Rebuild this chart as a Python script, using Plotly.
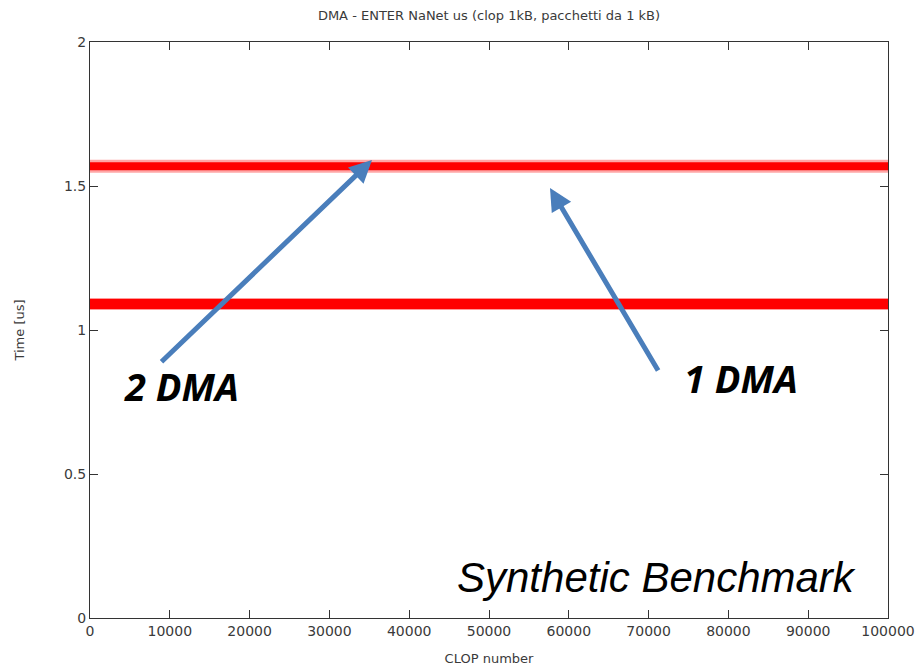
import plotly.graph_objects as go

# Data (two bands of CLOP timings)
clop_x = [0, 10000, 20000, 30000, 40000, 50000, 60000, 70000, 80000, 90000, 100000]
time_2dma = [1.569, 1.569, 1.569, 1.569, 1.569, 1.569, 1.569, 1.569, 1.569, 1.569, 1.569]
time_1dma = [1.090, 1.090, 1.090, 1.090, 1.090, 1.090, 1.090, 1.090, 1.090, 1.090, 1.090]

x_ticks = [0, 10000, 20000, 30000, 40000, 50000, 60000, 70000, 80000, 90000, 100000]
x_tick_text = ["0", "10000", "20000", "30000", "40000", "50000", "60000", "70000", "80000", "90000", "100000"]
y_ticks = [0, 0.5, 1, 1.5, 2]
y_tick_text = ["0", "0.5", "1", "1.5", "2"]

RED = "#ff0000"
BLUE = "#4a7ebb"
FONT = "DejaVu Sans"
TXT = "#3a3a3a"

fig = go.Figure()
# upper band (fuzzy edge)
fig.add_trace(go.Scatter(x=clop_x, y=time_2dma, mode="lines",
                         line=dict(color="rgba(255,0,0,0.35)", width=13),
                         hoverinfo="skip", showlegend=False))
fig.add_trace(go.Scatter(x=clop_x, y=time_2dma, mode="lines",
                         line=dict(color=RED, width=8), showlegend=False))
# lower band
fig.add_trace(go.Scatter(x=clop_x, y=time_1dma, mode="lines",
                         line=dict(color="rgba(255,0,0,0.4)", width=12),
                         hoverinfo="skip", showlegend=False))
fig.add_trace(go.Scatter(x=clop_x, y=time_1dma, mode="lines",
                         line=dict(color=RED, width=10), showlegend=False))

annotations = [
    dict(x=35338, y=1.590, ax=8772, ay=0.885, xref="x", yref="y", axref="x", ayref="y",
         showarrow=True, arrowhead=2, arrowsize=0.9, arrowwidth=5, arrowcolor=BLUE, text=""),
    dict(x=57644, y=1.493, ax=71303, ay=0.854, xref="x", yref="y", axref="x", ayref="y",
         showarrow=True, arrowhead=2, arrowsize=0.9, arrowwidth=5, arrowcolor=BLUE, text=""),
    dict(x=11404, y=0.806, xref="x", yref="y", showarrow=False,
         text="<b><i>2 DMA</i></b>", font=dict(family="Open Sans", size=38, color="black")),
    dict(x=81579, y=0.833, xref="x", yref="y", showarrow=False,
         text="<b><i>1 DMA</i></b>", font=dict(family="Open Sans", size=38, color="black")),
    dict(x=70927, y=0.142, xref="x", yref="y", showarrow=False,
         text="<i>Synthetic Benchmark</i>", font=dict(family="Liberation Sans", size=42, color="black")),
]

fig.update_layout(
    width=918, height=666,
    margin=dict(l=90, r=30, t=42, b=48),
    paper_bgcolor="white", plot_bgcolor="white",
    title=dict(text="DMA - ENTER NaNet us (clop 1kB, pacchetti da 1 kB)",
               x=489 / 918, xanchor="center", y=1 - 15 / 666, yanchor="middle",
               font=dict(family=FONT, size=13, color=TXT)),
    font=dict(family=FONT, size=13, color=TXT),
    annotations=annotations,
    xaxis=dict(range=[0, 100000], tickvals=x_ticks, ticktext=x_tick_text, ticks="inside", ticklen=8,
               tickcolor="#333333", showline=True, linecolor="#333333", linewidth=1,
               mirror="allticks", showgrid=False, zeroline=False, automargin=False,
               tickfont=dict(size=14),
               title=dict(text="CLOP number", standoff=16, font=dict(size=13))),
    yaxis=dict(range=[0, 2], tickvals=y_ticks, ticktext=y_tick_text, ticks="inside", ticklen=8,
               tickcolor="#333333", showline=True, linecolor="#333333", linewidth=1,
               mirror="allticks", showgrid=False, zeroline=False, automargin=False,
               tickfont=dict(size=14),
               title=dict(text="Time [us]", standoff=36, font=dict(size=13))),
)

fig.write_html("out.html", config={"displayModeBar": False},
               post_script="document.body.style.margin='0';")
